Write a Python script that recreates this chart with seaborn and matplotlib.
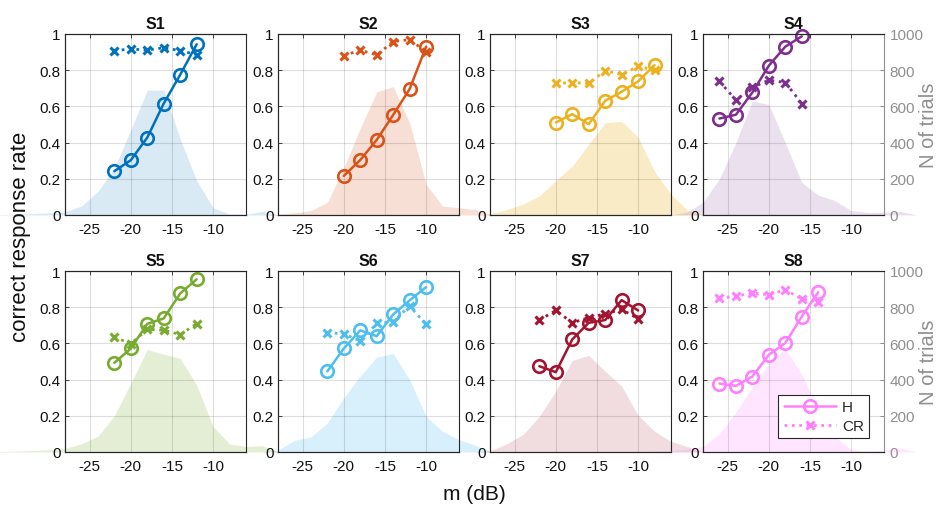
import numpy as np
import pandas as pd
import matplotlib
matplotlib.use("Agg")
import matplotlib.pyplot as plt
import seaborn as sns

# ---------------- data ----------------
subjects = ["S1", "S2", "S3", "S4", "S5", "S6", "S7", "S8"]
colors = ["#0072BD", "#D95319", "#EDB120", "#7E2F8E",
          "#77AC30", "#4DBEEE", "#A2142F", "#FF80FF"]
area_alpha = [0.15, 0.18, 0.25, 0.15, 0.2, 0.22, 0.15, 0.2]

# histogram bin centres (dB) for the number-of-trials areas
bins = [-36, -34, -32, -30, -28, -26, -24, -22, -20, -18,
        -16, -14, -12, -10, -8, -6, -4, -2]

N_S1 = [2, 5, 8, 12, 18, 50, 130, 260, 470, 690, 690, 420, 190, 40, 5, 5, 20, 0]
N_S2 = [0, 0, 0, 0, 5, 12, 25, 70, 260, 480, 680, 710, 510, 170, 50, 40, 30, 0]
N_S3 = [0, 0, 0, 0, 5, 30, 60, 105, 190, 270, 390, 510, 517, 430, 240, 115, 25, 0]
N_S4 = [0, 0, 0, 15, 70, 200, 400, 630, 610, 400, 180, 110, 80, 25, 15, 15, 20, 0]
N_S5 = [3, 5, 8, 12, 20, 45, 87, 200, 380, 566, 540, 517, 370, 140, 45, 30, 35, 0]
N_S6 = [0, 0, 0, 0, 10, 65, 83, 160, 300, 420, 524, 544, 400, 197, 114, 68, 37, 0]
N_S7 = [0, 0, 0, 0, 7, 44, 96, 197, 336, 506, 533, 446, 363, 203, 114, 59, 30, 0]
N_S8 = [0, 3, 8, 15, 30, 100, 220, 360, 490, 570, 430, 235, 87, 13, 5, 10, 20, 0]

m_S1 = [-22, -20, -18, -16, -14, -12]
H_S1 = [0.242, 0.303, 0.428, 0.616, 0.775, 0.943]
CR_S1 = [0.908, 0.917, 0.911, 0.924, 0.908, 0.886]

m_S2 = [-20, -18, -16, -14, -12, -10]
H_S2 = [0.216, 0.304, 0.415, 0.553, 0.696, 0.930]
CR_S2 = [0.880, 0.911, 0.884, 0.958, 0.969, 0.902]

m_S3 = [-20, -18, -16, -14, -12, -10, -8]
H_S3 = [0.511, 0.557, 0.502, 0.631, 0.681, 0.738, 0.828]
CR_S3 = [0.727, 0.732, 0.727, 0.797, 0.775, 0.821, 0.801]

m_S4 = [-26, -24, -22, -20, -18, -16]
H_S4 = [0.533, 0.554, 0.677, 0.825, 0.930, 0.987]
CR_S4 = [0.738, 0.635, 0.705, 0.745, 0.732, 0.616]

m_S5 = [-22, -20, -18, -16, -14, -12]
H_S5 = [0.493, 0.572, 0.708, 0.738, 0.876, 0.954]
CR_S5 = [0.635, 0.598, 0.677, 0.673, 0.649, 0.708]

m_S6 = [-22, -20, -18, -16, -14, -12, -10]
H_S6 = [0.446, 0.572, 0.672, 0.640, 0.760, 0.838, 0.911]
CR_S6 = [0.659, 0.653, 0.613, 0.710, 0.720, 0.806, 0.705]

m_S7 = [-22, -20, -18, -16, -14, -12, -10]
H_S7 = [0.474, 0.441, 0.622, 0.714, 0.729, 0.839, 0.782]
CR_S7 = [0.729, 0.782, 0.714, 0.742, 0.764, 0.788, 0.736]

m_S8 = [-26, -24, -22, -20, -18, -16, -14]
H_S8 = [0.378, 0.365, 0.417, 0.537, 0.602, 0.748, 0.883]
CR_S8 = [0.850, 0.861, 0.878, 0.869, 0.896, 0.846, 0.831]

x_ticks = [-25, -20, -15, -10]
x_ticklabels = ["-25", "-20", "-15", "-10"]
y_ticks = [0, 0.2, 0.4, 0.6, 0.8, 1]
y_ticklabels = ["0", "0.2", "0.4", "0.6", "0.8", "1"]
n_ticks = [0, 200, 400, 600, 800, 1000]
n_ticklabels = ["0", "200", "400", "600", "800", "1000"]

m_list = [m_S1, m_S2, m_S3, m_S4, m_S5, m_S6, m_S7, m_S8]
H_list = [H_S1, H_S2, H_S3, H_S4, H_S5, H_S6, H_S7, H_S8]
CR_list = [CR_S1, CR_S2, CR_S3, CR_S4, CR_S5, CR_S6, CR_S7, CR_S8]
N_list = [N_S1, N_S2, N_S3, N_S4, N_S5, N_S6, N_S7, N_S8]

# ---------------- style ----------------
sns.set_theme(style="white")
plt.rcParams["font.family"] = ["Liberation Sans", "DejaVu Sans"]
plt.rcParams["axes.unicode_minus"] = False

DARK = "#262626"
GRAY = "#8f8f8f"

W, Hpx = 938, 506
fig = plt.figure(figsize=(W / 100, Hpx / 100), dpi=100)
lefts = [65, 278, 490, 703]
tops = [35, 272]
size = 181

for i, s in enumerate(subjects):
    r, c = divmod(i, 4)
    col = colors[i]
    ax = fig.add_axes([lefts[c] / W, 1 - (tops[r] + size) / Hpx, size / W, size / Hpx])
    ax2 = ax.twinx()
    ax.set_zorder(ax2.get_zorder() + 1)
    ax.patch.set_visible(False)

    # number of trials area (right axis)
    ax2.fill_between(bins, N_list[i], 0, color=col, alpha=area_alpha[i],
                     lw=0, clip_on=False)
    ax2.set_ylim(0, 1000)

    df = pd.DataFrame({"m": m_list[i], "H": H_list[i], "CR": CR_list[i]})
    sns.lineplot(data=df, x="m", y="H", ax=ax, color=col, marker="o",
                 markersize=9, markerfacecolor="none", markeredgecolor=col,
                 markeredgewidth=1.9, linewidth=1.8, label="H", clip_on=False)
    sns.lineplot(data=df, x="m", y="CR", ax=ax, color=col, marker="x",
                 markersize=6, markeredgecolor=col, markeredgewidth=2.2,
                 linewidth=2.0, linestyle=":", label="CR", clip_on=False)

    ax.set_xlim(-28, -6)
    ax.set_ylim(0, 1)
    ax.set_xticks(x_ticks)
    ax.set_xticklabels(x_ticklabels)
    ax.set_yticks(y_ticks)
    ax.set_yticklabels(y_ticklabels)
    ax.set_xlabel("")
    ax.set_ylabel("")
    ax.grid(True, color=DARK, alpha=0.15, linewidth=0.8)
    ax.tick_params(axis="both", direction="in", length=3, width=0.6,
                   color=DARK, labelsize=11, labelcolor="#111111",
                   top=True, right=False)
    ax.tick_params(axis="x", pad=5)
    ax.tick_params(axis="y", pad=3)
    for sp in ax.spines.values():
        sp.set_color(DARK)
        sp.set_linewidth(0.8)
    ax.spines["right"].set_visible(False)
    for sp in ax2.spines.values():
        sp.set_color(DARK)
        sp.set_linewidth(0.8)
    ax.set_title(s, fontweight="bold", fontsize=11.5, pad=4, color="#111111")

    if c == 3:
        ax2.set_yticks(n_ticks)
        ax2.set_yticklabels(n_ticklabels)
        ax2.tick_params(axis="y", direction="in", length=3, width=0.6,
                        color=GRAY, labelcolor=GRAY, labelsize=11, pad=4)
        ax2.spines["right"].set_color(GRAY)
        yc = tops[r] + size / 2
        fig.text(937.5 / W, 1 - yc / Hpx, "N of trials", rotation=90,
                 ha="right", va="center", fontsize=14.5, color=GRAY)
    else:
        ax2.set_yticks([])

    leg = ax.get_legend()
    if leg is not None:
        leg.remove()
    if i == 7:
        lg = ax.legend(loc="lower right", bbox_to_anchor=(0.918, 0.076),
                       borderaxespad=0, frameon=True, fancybox=False,
                       edgecolor=DARK, framealpha=1, fontsize=11,
                       handlelength=3.4, numpoints=1, borderpad=0.35,
                       labelspacing=0.3, handletextpad=0.4)
        lg.get_frame().set_linewidth(0.8)

fig.text(21 / W, 1 - 237 / Hpx, "correct response rate", rotation=90,
         ha="center", va="center", fontsize=16, color="#111111")
fig.text(474 / W, 1 - 495 / Hpx, "m (dB)", ha="center", va="center",
         fontsize=15, color="#111111")

fig.savefig("out.png", dpi=100)
